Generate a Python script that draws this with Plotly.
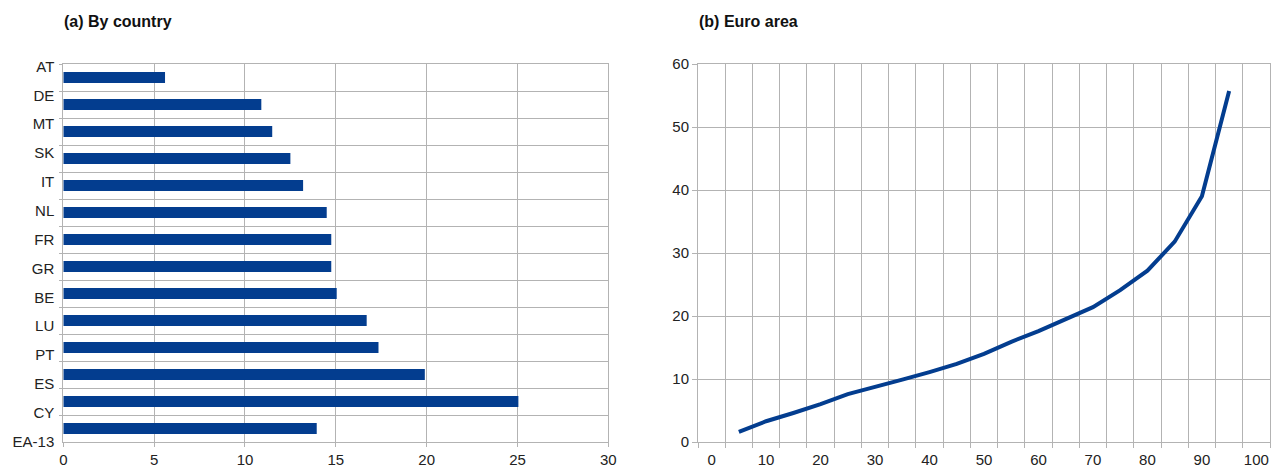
import plotly.graph_objects as go

# ---- data ----
countries = ["AT", "DE", "MT", "SK", "IT", "NL", "FR", "GR", "BE", "LU", "PT", "ES", "CY", "EA-13"]
country_values = [5.6, 10.9, 11.5, 12.5, 13.2, 14.5, 14.75, 14.75, 15.05, 16.7, 17.35, 19.9, 25.05, 13.95]

percentiles = [5, 10, 15, 20, 25, 30, 35, 40, 45, 50, 55, 60, 65, 70, 75, 80, 85, 90, 95]
euro_values = [1.6, 3.3, 4.6, 6.0, 7.6, 8.7, 9.9, 11.1, 12.4, 14.0, 15.9, 17.6, 19.5, 21.4,
               24.1, 27.2, 31.8, 39.0, 55.7]
x_tick_labels = [0, 10, 20, 30, 40, 50, 60, 70, 80, 90, 100]
percentile_bins = [-2.5 + 5 * i for i in range(22)]

BLUE = "#033d8f"
GRID = "#b3b3b3"
FONT = dict(family="Liberation Sans, Arial, sans-serif", size=15, color="#222222")

fig = go.Figure()

fig.add_trace(go.Bar(
    x=country_values, y=countries, orientation="h",
    marker=dict(color=BLUE, line=dict(width=0)), width=0.4,
    xaxis="x", yaxis="y", showlegend=False, hoverinfo="x+y",
))
# invisible trace to create the label axis
fig.add_trace(go.Scatter(x=[None], y=[None], xaxis="x", yaxis="y3",
                         showlegend=False, hoverinfo="skip"))

fig.add_trace(go.Scatter(
    x=percentiles, y=euro_values, mode="lines",
    line=dict(color=BLUE, width=4),
    xaxis="x2", yaxis="y2", showlegend=False,
))

plot_h = 468 - 64 - 26
title_y = 1 + (64 - 22) / plot_h

fig.update_layout(
    width=1271, height=468,
    margin=dict(l=0, r=0, t=64, b=26, autoexpand=False),
    paper_bgcolor="white", plot_bgcolor="white",
    font=FONT,
    xaxis=dict(
        domain=[63.3 / 1271, 608.3 / 1271], range=[0, 30], dtick=5, tick0=0,
        showgrid=True, gridcolor=GRID, gridwidth=1, zeroline=False,
        showline=True, linecolor=GRID, mirror=True, automargin=False,
        ticks="outside", ticklen=4, tickcolor=GRID, anchor="y",
    ),
    yaxis=dict(
        domain=[0, 1], type="category", categoryarray=countries, categoryorder="array",
        range=[13.5, -0.5], tickson="boundaries",
        showgrid=True, gridcolor=GRID, gridwidth=1, zeroline=False,
        showline=True, linecolor=GRID, mirror=True, automargin=False,
        ticks="outside", ticklen=3, tickcolor=GRID,
        showticklabels=False, anchor="x",
    ),
    yaxis3=dict(
        overlaying="y", anchor="x", side="left",
        range=[13.01, -0.083], tickmode="array",
        tickvals=list(range(len(countries))), ticktext=countries,
        showgrid=False, zeroline=False, showline=False, ticks="", automargin=False,
        ticklabelstandoff=8,
    ),
    xaxis2=dict(
        domain=[698 / 1271, 1270 / 1271], range=[-2.5, 102.5],
        tickmode="array", tickvals=x_tick_labels, ticktext=[str(v) for v in x_tick_labels],
        showgrid=False, zeroline=False, ticks="", automargin=False,
        showline=True, linecolor=GRID, mirror=True,
        minor=dict(tickmode="array", tickvals=percentile_bins, showgrid=True,
                   gridcolor=GRID, gridwidth=1, ticks="outside", ticklen=5, tickcolor=GRID),
        anchor="y2", ticklabelstandoff=4,
    ),
    yaxis2=dict(
        domain=[0, 1], range=[0, 60], dtick=10, tick0=0,
        showgrid=True, gridcolor=GRID, gridwidth=1, zeroline=False,
        showline=True, linecolor=GRID, mirror=True, automargin=False,
        ticks="outside", ticklen=5, tickcolor=GRID, anchor="x2",
    ),
    annotations=[
        dict(text="<b>(a) By country</b>", x=62 / 1271, y=title_y, xref="paper", yref="paper",
             showarrow=False, xanchor="left", yanchor="middle",
             font=dict(family="Liberation Sans, Arial, sans-serif", size=16, color="#111111")),
        dict(text="<b>(b) Euro area</b>", x=697 / 1271, y=title_y, xref="paper", yref="paper",
             showarrow=False, xanchor="left", yanchor="middle",
             font=dict(family="Liberation Sans, Arial, sans-serif", size=16, color="#111111")),
    ],
)

fig.write_html("out.html", config={"displayModeBar": False},
               post_script="document.body.style.margin='0';document.body.style.overflow='hidden';")
